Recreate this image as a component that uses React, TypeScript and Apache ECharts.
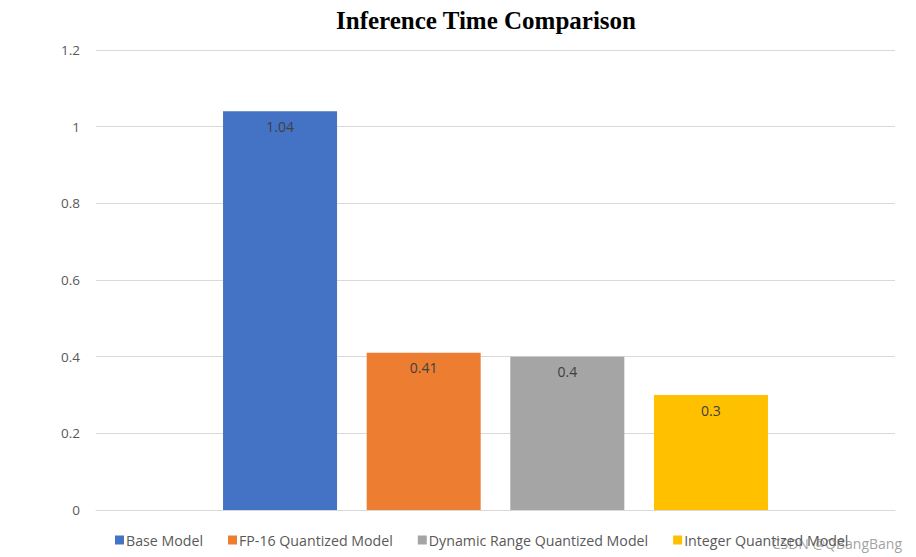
import React, { useEffect, useRef } from "react";
import * as echarts from "echarts";

const seriesNames = ["Base Model", "FP-16 Quantized Model", "Dynamic Range Quantized Model", "Integer Quantized Model"];
const seriesValues = [1.04, 0.41, 0.4, 0.3];
const seriesColors = ["#4472C4", "#ED7D31", "#A5A5A5", "#FFC000"];
const categories = [""];

export default function App() {
  const ref = useRef<HTMLDivElement>(null);
  useEffect(() => {
    if (!ref.current) return;
    const chart = echarts.init(ref.current, null, { renderer: "svg" });
    const font = "'Open Sans', 'Liberation Sans', sans-serif";
    chart.setOption({
      animation: false,
      backgroundColor: "#ffffff",
      title: {
        text: "Inference Time Comparison",
        left: 481,
        textAlign: "center",
        top: 3,
        textStyle: { fontFamily: "'Liberation Serif', serif", fontWeight: "bold", fontSize: 25, color: "#000" },
      },
      grid: { left: 96, right: 21, top: 50, bottom: 47 },
      legend: {
        bottom: 5,
        left: 110,
        itemWidth: 9,
        itemHeight: 9,
        itemGap: 25,
        icon: "rect",
        textStyle: { fontFamily: font, fontSize: 14.2, color: "#595959", padding: [0, 0, 0, -3] },
        data: seriesNames,
      },
      xAxis: {
        type: "category",
        data: categories,
        axisLine: { lineStyle: { color: "#D9D9D9" } },
        axisTick: { show: false },
        axisLabel: { show: false },
      },
      yAxis: {
        type: "value",
        min: 0,
        max: 1.2,
        interval: 0.2,
        axisLine: { show: false },
        axisTick: { show: false },
        splitLine: { lineStyle: { color: "#D9D9D9" } },
        axisLabel: { fontFamily: font, fontSize: 13.5, color: "#595959", margin: 16 },
      },
      series: seriesNames.map((name, i) => ({
        name,
        type: "bar",
        data: [seriesValues[i]],
        barWidth: 114,
        barGap: "26%",
        itemStyle: { color: seriesColors[i] },
        label: {
          show: true,
          position: "insideTop",
          distance: 8,
          fontFamily: font,
          fontSize: 14,
          color: "#404040",
        },
      })),
      graphic: [
        {
          type: "text",
          right: 14,
          bottom: 7,
          style: { text: "CSDN @QBangBang", fontFamily: font, fontSize: 14, fill: "rgba(130,130,130,0.75)" },
        },
      ],
    });
    return () => chart.dispose();
  }, []);
  return <div ref={ref} style={{ width: 916, height: 557, position: "absolute", left: 0, top: 0 }} />;
}
